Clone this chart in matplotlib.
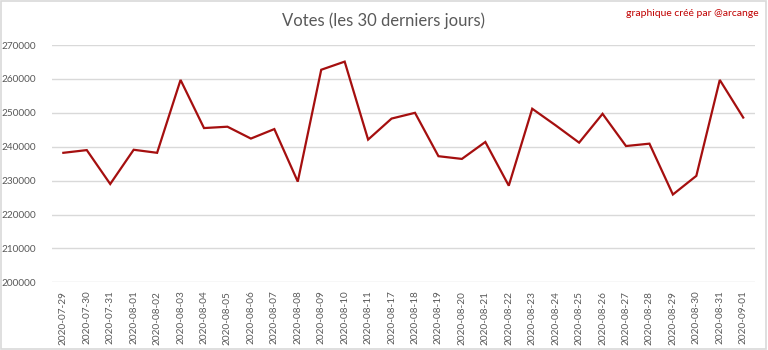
import matplotlib
matplotlib.use("Agg")
import matplotlib.pyplot as plt
from matplotlib.patches import Rectangle

dates = ["2020-07-29", "2020-07-30", "2020-07-31", "2020-08-01", "2020-08-02",
         "2020-08-03", "2020-08-04", "2020-08-05", "2020-08-06", "2020-08-07",
         "2020-08-08", "2020-08-09", "2020-08-10", "2020-08-11", "2020-08-17",
         "2020-08-18", "2020-08-19", "2020-08-20", "2020-08-21", "2020-08-22",
         "2020-08-23", "2020-08-24", "2020-08-25", "2020-08-26", "2020-08-27",
         "2020-08-28", "2020-08-29", "2020-08-30", "2020-08-31", "2020-09-01"]
votes = [238200, 239000, 229000, 239100, 238200,
         259700, 245500, 245900, 242400, 245200,
         229700, 262700, 265100, 242100, 248300,
         250000, 237200, 236400, 241400, 228500,
         251200, 246300, 241200, 249700, 240200,
         240900, 225900, 231400, 259700, 248600]
yticks = [200000, 210000, 220000, 230000, 240000, 250000, 260000, 270000]

plt.rcParams['font.family'] = ['Lato', 'DejaVu Sans']

fig = plt.figure(figsize=(7.68, 3.5), dpi=100)
ax = fig.add_axes([0.0672, 0.1934, 0.9158, 0.678])

x = list(range(len(dates)))
ax.plot(x, votes, color="#A50F0F", linewidth=1.6, solid_joinstyle="miter")

ax.set_xlim(-0.5, len(dates) - 0.5)
ax.set_ylim(200000, 270000)
ax.set_yticks(yticks)
ax.set_yticklabels([str(v) for v in yticks])
ax.set_xticks(x)
ax.set_xticklabels(dates, rotation=90)
ax.tick_params(axis='both', length=0, colors="#595959", labelsize=7.2)
ax.tick_params(axis='y', pad=11)
ax.tick_params(axis='x', pad=6)
ax.grid(axis='y', color="#D9D9D9", linewidth=1.0)
ax.set_axisbelow(True)
for s in ax.spines.values():
    s.set_visible(False)

fig.text(0.5, 0.94, "Votes (les 30 derniers jours)", ha="center", va="center",
         fontsize=12, color="#595959")
fig.text(0.988, 0.962, "graphique créé par @arcange", ha="right", va="center",
         fontsize=7.5, color="#C00000")

fig.patches.append(Rectangle((0.001, 0.002), 0.996, 0.995, transform=fig.transFigure,
                             fill=False, edgecolor="#D9D9D9", linewidth=1.2))

fig.savefig("out.png", dpi=100)
